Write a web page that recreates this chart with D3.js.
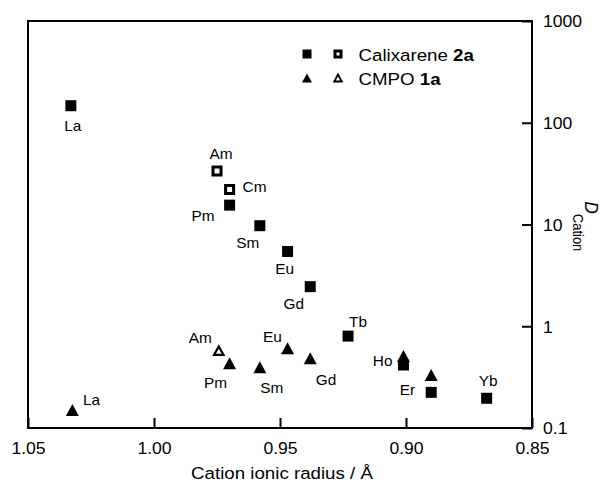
<!DOCTYPE html>
<html>
<head>
<meta charset="utf-8">
<script src="https://cdn.jsdelivr.net/npm/d3@7"></script>
<style>
  body { margin: 0; background: #fff; }
  svg { display: block; font-family: "Liberation Sans", Arial, Helvetica, sans-serif; }
</style>
</head>
<body>
<div id="graph"></div>
<script>
// values
var calixElements = ["La", "Am", "Cm", "Pm", "Sm", "Eu", "Gd", "Tb", "Ho", "Er", "Yb"];
var calixRadius   = [1.033, 0.975, 0.970, 0.970, 0.958, 0.947, 0.938, 0.923, 0.901, 0.890, 0.868];
var calixD        = [147, 33.6, 22.1, 15.5, 9.73, 5.43, 2.45, 0.80, 0.416, 0.224, 0.196];
var calixOpen     = [false, true, true, false, false, false, false, false, false, false, false];

var cmpoElements = ["La", "Am", "Pm", "Sm", "Eu", "Gd", "Ho", "Er"];
var cmpoRadius   = [1.0324, 0.9743, 0.970, 0.958, 0.947, 0.938, 0.901, 0.890];
var cmpoD        = [0.150, 0.575, 0.432, 0.395, 0.607, 0.484, 0.51, 0.332];
var cmpoOpen     = [false, true, false, false, false, false, false, false];

var xTicks = [1.05, 1.00, 0.95, 0.90, 0.85];
var yTicks = [0.1, 1, 10, 100, 1000];

// where each element label sits next to its marker: [dx, dy, anchor]
var calixLabelPos = [[2, 25, "middle"], [4, -12, "middle"], [13, 3, "start"], [-15, 16, "end"],
  [-12, 22, "middle"], [-3, 22.5, "middle"], [-16.5, 22.6, "middle"], [10, -9.3, "middle"],
  [-11, 1, "end"], [-16, 3, "end"], [1.5, -12.6, "middle"]];
var cmpoLabelPos = [[10.7, -5, "start"], [-7, -8, "end"], [-14, 25, "middle"], [12, 25.4, "middle"],
  [-5.7, -6.6, "end"], [15.7, 26.7, "middle"], null, null];

var width = 602, height = 482;
var box = {left: 28, right: 532, top: 21, bottom: 428};
var sx = 1.1; // text in the original is a little wide

var svg = d3.select('#graph')
  .append('svg')
  .attr('width', width)
  .attr('height', height);

var x = d3.scaleLinear().domain([1.05, 0.85]).range([box.left, box.right]);
var y = d3.scaleLog().domain([0.1, 1000]).range([box.bottom, box.top]);

/* x axis, ticks pointing inward */
var xAxis = svg.append('g')
  .attr('transform', 'translate(0,' + box.bottom + ')')
  .call(d3.axisBottom(x).tickValues(xTicks).tickSize(-10).tickSizeOuter(0)
    .tickPadding(14.6).tickFormat(d3.format('.2f')));

/* y axis on the right */
var yAxis = svg.append('g')
  .attr('transform', 'translate(' + box.right + ',0)')
  .call(d3.axisRight(y).tickValues(yTicks).tickSize(-10).tickSizeOuter(0)
    .tickPadding(10).tickFormat(d3.format('~g')));

[xAxis, yAxis].forEach(function(a) {
  a.select('.domain').remove();
  a.attr('font-family', null).attr('font-size', 16);
  a.selectAll('line').attr('stroke', '#000').attr('stroke-width', 2);
  a.selectAll('text').attr('fill', '#000').attr('transform', 'scale(' + sx + ',1)');
});
yAxis.selectAll('text').attr('dy', '0.36em');

svg.append('rect')
  .attr('x', box.left).attr('y', box.top)
  .attr('width', box.right - box.left).attr('height', box.bottom - box.top)
  .attr('fill', 'none').attr('stroke', '#000').attr('stroke-width', 2);

/* axis titles */
svg.append('text')
  .attr('transform', 'translate(282,479) scale(' + sx + ',1)')
  .attr('text-anchor', 'middle')
  .attr('font-size', 17)
  .text('Cation ionic radius / Å');

var yTitle = svg.append('text')
  .attr('transform', 'translate(585,201.5) scale(' + sx + ',1) rotate(90)')
  .attr('font-size', 17);
yTitle.append('tspan').attr('font-style', 'italic').text('D');
yTitle.append('tspan').attr('font-size', 13).attr('dy', 11).text('Cation');

/* marker shapes */
function squarePath(s) {
  var h = s / 2;
  return 'M' + (-h) + ',' + (-h) + 'H' + h + 'V' + h + 'H' + (-h) + 'Z';
}
function trianglePath(w, h) {
  return 'M0,' + (-h / 2) + 'L' + (w / 2) + ',' + (h / 2) + 'L' + (-w / 2) + ',' + (h / 2) + 'Z';
}
function drawMarker(g, kind, open, big) {
  var p = g.append('path');
  if (kind === 'square') {
    var s = big ? 11 : 9;
    p.attr('d', squarePath(open ? s - 3 : s));
  } else if (open) {
    p.attr('d', big ? trianglePath(9.5, 8.5) : trianglePath(7.5, 7));
  } else {
    p.attr('d', big ? trianglePath(13, 12) : trianglePath(10, 9));
  }
  if (open) {
    var sw = kind === 'square' ? 3 : (big ? 2.2 : 1.8);
    p.attr('fill', '#fff').attr('stroke', '#000').attr('stroke-width', sw)
      .attr('stroke-linejoin', 'miter');
  } else {
    p.attr('fill', '#000');
  }
}

function plotSeries(elements, radius, D, open, labelPos, kind) {
  var g = svg.append('g');
  elements.forEach(function(el, i) {
    var m = g.append('g')
      .attr('transform', 'translate(' + x(radius[i]) + ',' + y(D[i]) + ')');
    drawMarker(m, kind, open[i], true);
  });
  elements.forEach(function(el, i) {
    var lp = labelPos[i];
    if (!lp) return;
    g.append('text')
      .attr('transform', 'translate(' + (x(radius[i]) + lp[0]) + ',' + (y(D[i]) + lp[1]) + ') scale(' + sx + ',1)')
      .attr('text-anchor', lp[2])
      .attr('font-size', 14)
      .text(el);
  });
}

plotSeries(cmpoElements, cmpoRadius, cmpoD, cmpoOpen, cmpoLabelPos, 'triangle');
plotSeries(calixElements, calixRadius, calixD, calixOpen, calixLabelPos, 'square');

/* legend */
var legend = svg.append('g').attr('transform', 'translate(307,54)');
var legendRows = [
  {kind: 'square', name: 'Calixarene ', bold: '2a'},
  {kind: 'triangle', name: 'CMPO ', bold: '1a'}
];
legendRows.forEach(function(r, i) {
  var row = legend.append('g').attr('transform', 'translate(0,' + (i * 24) + ')');
  drawMarker(row.append('g'), r.kind, false, false);
  drawMarker(row.append('g').attr('transform', 'translate(31,0)'), r.kind, true, false);
  var t = row.append('text')
    .attr('transform', 'translate(51.5,6.5) scale(' + sx + ',1)')
    .attr('font-size', 17);
  t.append('tspan').text(r.name);
  t.append('tspan').attr('font-weight', 'bold').text(r.bold);
});
</script>
</body>
</html>
